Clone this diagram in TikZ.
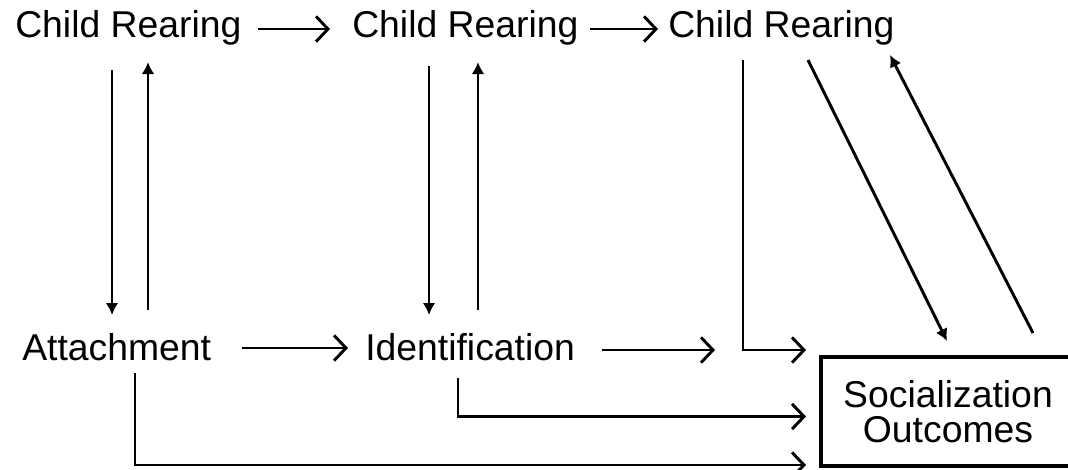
\documentclass[tikz,border=0pt]{standalone}
\usepackage{fontspec}
\setmainfont{Liberation Sans}
\usetikzlibrary{arrows.meta,calc}
\tikzset{
  label/.style={inner sep=0pt, anchor=base west, text height=20pt, text depth=6pt,
    font=\fontsize{28}{33}\selectfont},
  link/.style={line width=2.2pt},
  flow/.style={link, -{Straight Barb[length=9pt,width=19pt,line width=2.2pt]}},
  feed/.style={link, -{Latex[length=9pt,width=9.5pt]}},
  outbox/.style={draw, line width=3pt, minimum width=190.5pt, minimum height=81.75pt,
    inner sep=0pt, align=center, font=\fontsize{28}{24.75}\selectfont},
}
\begin{document}
\begin{tikzpicture}[x=0.75pt,y=-0.75pt]
  \clip (0,0) rectangle (1068,469);
  \fill[white] (0,0) rectangle (1068,469);

  % top row of child-rearing stages
  \node[label] (cr1) at (15,37)  {Child Rearing};
  \node[label] (cr2) at (352,37) {Child Rearing};
  \node[label] (cr3) at (668,37) {Child Rearing};

  % mechanisms
  \node[label] (att) at (22,360)  {Attachment};
  \node[label] (ide) at (365,360) {Identification};

  % outcome box (its right side runs off the page)
  \node[outbox] (soc) at (948,411.5) {Socialization\\[2pt]Outcomes};

  \coordinate (iend) at (715,350);

  % sequence along the top
  \draw[flow] ($(cr1.base west)+(243,-8)$) -- ($(cr2.base west)+(-22,-8)$);
  \draw[flow] ($(cr2.base west)+(238,-8)$) -- ($(cr3.base west)+(-10,-8)$);

  % sequence along the bottom
  \draw[flow] ($(att.base west)+(220,-12)$) -- ($(ide.base west)+(-17,-12)$);
  \draw[flow] ($(ide.base west)+(237,-10)$) -- (iend);

  % two-way links between rearing and mechanisms
  \draw[feed] ($(cr1.base west)+(97,33)$)  -- ($(att.base west)+(90,-45)$);
  \draw[feed] ($(att.base west)+(126,-50)$) -- ($(cr1.base west)+(133,25)$);
  \draw[feed] ($(cr2.base west)+(77,29)$)  -- ($(ide.base west)+(64,-45)$);
  \draw[feed] ($(ide.base west)+(113,-50)$) -- ($(cr2.base west)+(126,25)$);

  % paths into the outcome box
  \draw[flow] ($(cr3.base west)+(75,23)$)  |- ($(soc.north west)+(-13,-5)$);
  \draw[flow] ($(ide.base west)+(93,18)$)  |- ($(soc.west)+(-13,5)$);
  \draw[flow] ($(att.base west)+(113,13)$) |- ($(soc.south west)+(-13,-3)$);

  % reciprocal link between the last stage and the outcomes
  \draw[feed] ($(cr3.base west)+(140,23)$) -- ($(soc.north)+(-1,-14)$);
  \draw[feed] ($(soc.north)+(85,-22)$) -- ($(cr3.base west)+(222,18)$);
\end{tikzpicture}
\end{document}
